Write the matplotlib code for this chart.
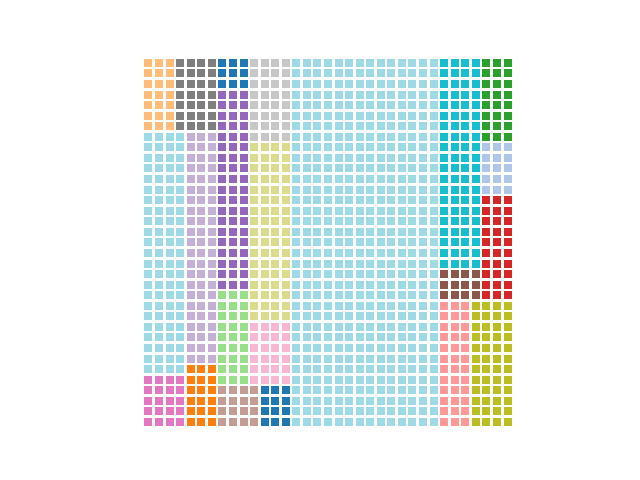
import matplotlib
matplotlib.use("Agg")
import matplotlib.pyplot as plt
from matplotlib.patches import Rectangle

# cells per group (35 x 35 grid = 1225 cells)
counts = [21, 28, 9, 57, 32, 68, 24, 27, 16, 12, 92,
          66, 18, 20, 490, 80, 12, 36, 48, 24, 15, 30]
colors = ['#ffbb78', '#7f7f7f', '#1f77b4', '#9467bd', '#c7c7c7', '#dbdb8d',
          '#f7b6d2', '#98df8a', '#c49c94', '#1f77b4', '#9edae5', '#c5b0d5',
          '#ff7f0e', '#e377c2', '#9edae5', '#17becf', '#8c564b', '#ff9896',
          '#bcbd22', '#2ca02c', '#aec7e8', '#d62728']

# block layout: first column, first row (from top), width in cells
block_col = [0, 3, 7, 7, 10, 10, 10, 7, 7, 11, 0, 4, 4, 0, 14, 28, 28, 28, 31, 32, 32, 32]
block_row = [0, 0, 0, 3, 0, 8, 25, 22, 31, 31, 7, 7, 29, 30, 0, 0, 20, 23, 23, 0, 8, 13]
block_width = [3, 4, 3, 3, 4, 4, 4, 3, 4, 3, 4, 3, 3, 4, 14, 4, 4, 3, 4, 3, 3, 3]

N = 35
size = 0.76
pad = (1 - size) / 2

fig, ax = plt.subplots(figsize=(6.4, 4.8), dpi=100)
for n, c, c0, r0, w in zip(counts, colors, block_col, block_row, block_width):
    for k in range(n):
        col = c0 + k % w
        row = r0 + k // w
        ax.add_patch(Rectangle((col + pad, N - 1 - row + pad), size, size,
                               facecolor=c, edgecolor='none'))

ax.set_xlim(0, N)
ax.set_ylim(0, N)
ax.set_aspect('equal')
ax.axis('off')
fig.savefig('out.png')
